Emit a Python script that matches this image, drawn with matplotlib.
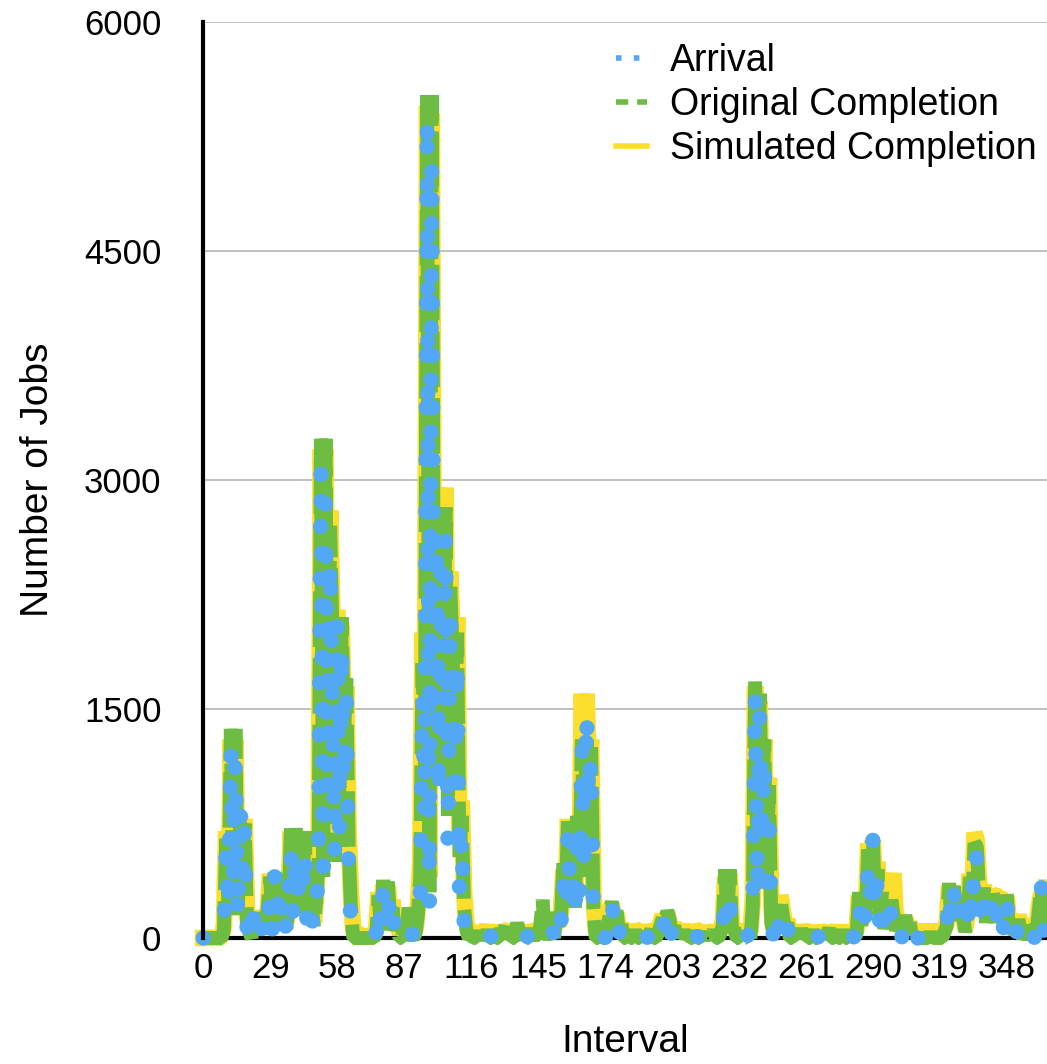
import numpy as np
import matplotlib
matplotlib.use("Agg")
import matplotlib.pyplot as plt
from matplotlib.lines import Line2D

plt.rcParams['font.family'] = ['Liberation Sans', 'DejaVu Sans']

# values per interval, 0..365
arrival = [
    0, 10, 0, 20, 5, 0, 15, 30, 10, 60,
    600, 150, 1260, 300, 1180, 100, 900, 400, 720, 60,
    150, 20, 160, 60, 110, 10, 140, 40, 90, 300,
    60, 410, 150, 380, 90, 200, 40, 250, 600, 130,
    520, 300, 560, 250, 600, 60, 220, 150, 40, 200,
    450, 3120, 300, 2850, 900, 2500, 1600, 520, 2100, 700,
    1950, 1000, 1550, 420, 110, 20, 0, 0, 0, 0,
    0, 0, 0, 0, 5, 40, 250, 30, 360, 120,
    340, 60, 180, 20, 70, 10, 0, 30, 10, 20,
    0, 40, 10, 130, 300, 1600, 800, 5400, 200, 5100,
    1500, 2700, 900, 2400, 1300, 2650, 600, 2150, 1700, 1000,
    1850, 300, 700, 100, 20, 30, 0, 10, 20, 0,
    15, 0, 10, 30, 0, 20, 5, 0, 10, 0,
    20, 0, 15, 10, 0, 30, 5, 0, 20, 10,
    0, 25, 10, 0, 30, 15, 0, 40, 10, 20,
    0, 60, 20, 150, 40, 100, 400, 150, 720, 200,
    650, 120, 780, 300, 1280, 400, 1500, 900, 1200, 150,
    40, 0, 20, 10, 0, 30, 120, 260, 60, 150,
    30, 80, 10, 0, 20, 10, 0, 30, 5, 0,
    20, 10, 0, 15, 30, 0, 10, 20, 50, 170,
    20, 160, 90, 10, 60, 20, 0, 10, 30, 0,
    20, 5, 0, 30, 10, 0, 20, 0, 15, 5,
    0, 30, 10, 0, 20, 50, 320, 120, 300, 20,
    40, 10, 0, 30, 10, 0, 20, 10, 150, 1620,
    300, 1450, 700, 1180, 200, 880, 60, 20, 190, 50,
    200, 120, 30, 60, 10, 0, 20, 0, 10, 30,
    0, 20, 10, 0, 30, 5, 0, 20, 10, 0,
    15, 30, 0, 10, 20, 0, 5, 30, 10, 0,
    20, 0, 10, 20, 250, 50, 210, 100, 520, 300,
    640, 150, 400, 80, 250, 30, 120, 60, 200, 100,
    30, 80, 20, 0, 100, 20, 60, 0, 10, 0,
    0, 5, 0, 10, 0, 20, 0, 5, 0, 10,
    0, 20, 50, 330, 80, 300, 150, 60, 200, 100,
    20, 90, 350, 100, 600, 520, 250, 120, 300, 80,
    200, 150, 250, 60, 200, 280, 100, 40, 270, 10,
    60, 0, 20, 100, 30, 0, 20, 0, 10, 60,
    0, 30, 150, 330, 20, 280,
]

original = [
    0, 0, 0, 0, 0, 0, 0, 0, 0, 50,
    650, 200, 1370, 300, 1370, 150, 760, 500, 750, 100,
    40, 0, 200, 30, 150, 0, 100, 50, 200, 400,
    100, 430, 200, 420, 100, 300, 60, 200, 720, 150,
    720, 400, 650, 300, 700, 100, 300, 200, 80, 250,
    500, 3270, 400, 3270, 1000, 2700, 2000, 500, 2100, 900,
    2100, 1300, 1700, 600, 200, 0, 0, 0, 0, 0,
    0, 0, 0, 0, 0, 30, 280, 50, 380, 150,
    370, 100, 200, 50, 100, 0, 0, 50, 0, 200,
    20, 0, 30, 150, 400, 1800, 1000, 5520, 300, 5520,
    1700, 2800, 1100, 2700, 1500, 2820, 800, 2300, 1900, 1200,
    2000, 500, 800, 200, 50, 0, 20, 0, 0, 40,
    0, 20, 0, 50, 0, 0, 30, 0, 0, 60,
    0, 90, 0, 40, 0, 0, 100, 20, 0, 50,
    0, 0, 60, 0, 20, 0, 80, 250, 0, 30,
    0, 100, 0, 170, 60, 150, 500, 200, 800, 300,
    700, 200, 800, 400, 1300, 500, 1300, 1000, 1250, 200,
    0, 0, 30, 0, 0, 50, 150, 240, 100, 180,
    50, 100, 0, 0, 40, 0, 0, 50, 0, 0,
    30, 0, 0, 20, 50, 0, 0, 30, 80, 130,
    40, 180, 120, 0, 80, 0, 0, 0, 50, 0,
    30, 0, 0, 40, 0, 0, 30, 0, 20, 0,
    0, 50, 0, 0, 30, 80, 450, 150, 450, 50,
    60, 0, 0, 50, 0, 0, 30, 0, 200, 1680,
    400, 1600, 800, 1300, 300, 1000, 100, 30, 220, 80,
    250, 150, 50, 100, 0, 0, 30, 0, 0, 60,
    0, 40, 0, 0, 50, 0, 0, 30, 0, 0,
    20, 60, 0, 0, 30, 0, 0, 50, 0, 0,
    40, 0, 0, 30, 300, 80, 250, 150, 580, 350,
    660, 200, 450, 120, 300, 60, 150, 100, 250, 150,
    50, 120, 40, 0, 150, 50, 100, 0, 0, 0,
    0, 0, 0, 0, 0, 30, 0, 0, 0, 0,
    0, 40, 80, 360, 100, 340, 200, 100, 250, 150,
    40, 120, 400, 150, 620, 600, 300, 150, 330, 100,
    250, 200, 300, 100, 250, 300, 150, 60, 290, 30,
    100, 0, 50, 120, 50, 0, 40, 0, 30, 100,
    0, 50, 200, 340, 40, 330,
]

simulated = [
    0, 0, 10, 0, 0, 20, 0, 0, 10, 80,
    700, 150, 1300, 350, 1300, 200, 800, 450, 780, 150,
    60, 20, 180, 50, 120, 30, 150, 80, 180, 420,
    80, 400, 250, 400, 150, 280, 100, 250, 700, 200,
    700, 350, 680, 350, 650, 150, 320, 250, 100, 300,
    550, 3200, 500, 3200, 1200, 2800, 2100, 550, 2150, 1000,
    2050, 1400, 1650, 700, 300, 50, 20, 30, 20, 10,
    20, 10, 30, 20, 10, 60, 300, 80, 350, 200,
    340, 150, 250, 80, 120, 40, 20, 30, 50, 100,
    40, 30, 60, 200, 500, 2000, 1200, 5450, 400, 5400,
    1800, 2950, 1300, 2900, 1600, 2950, 1000, 2400, 2000, 1400,
    2100, 700, 900, 300, 100, 50, 30, 40, 60, 30,
    50, 30, 40, 80, 20, 60, 40, 30, 50, 40,
    60, 30, 50, 70, 30, 40, 60, 50, 40, 70,
    30, 50, 40, 60, 50, 40, 60, 100, 40, 60,
    50, 80, 60, 120, 80, 180, 450, 250, 780, 350,
    720, 250, 780, 500, 1600, 600, 1600, 1100, 1300, 300,
    50, 40, 60, 30, 50, 80, 180, 220, 120, 160,
    60, 90, 40, 50, 60, 40, 30, 60, 50, 40,
    60, 30, 50, 40, 70, 50, 30, 60, 100, 150,
    60, 160, 100, 40, 90, 50, 30, 40, 70, 40,
    50, 40, 30, 60, 50, 40, 60, 30, 50, 40,
    30, 60, 40, 50, 60, 100, 400, 200, 420, 80,
    60, 40, 50, 60, 40, 30, 50, 40, 250, 1650,
    450, 1550, 850, 1300, 400, 1050, 200, 60, 250, 100,
    280, 180, 80, 120, 40, 30, 50, 40, 30, 70,
    40, 50, 40, 30, 60, 40, 30, 50, 40, 30,
    40, 60, 30, 40, 50, 30, 40, 60, 40, 30,
    50, 40, 30, 60, 280, 100, 280, 200, 620, 400,
    640, 250, 500, 150, 350, 100, 200, 150, 300, 425,
    100, 150, 80, 40, 130, 80, 100, 40, 50, 40,
    50, 40, 50, 40, 50, 40, 50, 40, 50, 40,
    40, 60, 100, 340, 120, 330, 220, 120, 230, 180,
    60, 150, 420, 200, 690, 640, 350, 200, 350, 150,
    270, 230, 320, 150, 280, 290, 180, 100, 270, 80,
    120, 40, 80, 150, 80, 40, 60, 40, 60, 120,
    40, 80, 220, 300, 80, 330,
]

x_ticks = [0, 29, 58, 87, 116, 145, 174, 203, 232, 261, 290, 319, 348]
y_ticks = [0, 1500, 3000, 4500, 6000]

blue = '#52A8F5'
green = '#6CBD42'
yellow = '#FCDF2C'

x = np.arange(len(arrival))

fig = plt.figure(figsize=(10.47, 10.64), dpi=100)
ax = fig.add_axes([0.194, 0.1184, 0.806, 0.8609])

ax.plot(x, simulated, color=yellow, lw=12, solid_joinstyle='bevel',
        zorder=2, clip_on=False)
ax.plot(x, original, color=green, lw=10, linestyle=(0, (4, 0.8)),
        dash_capstyle='butt', dash_joinstyle='bevel', zorder=3, clip_on=False)
ax.plot(x, arrival, color=blue, lw=11, linestyle=(0, (0.01, 3.4)),
        dash_capstyle='round', dash_joinstyle='round', zorder=4, clip_on=False)

ax.set_xlim(0, 365.4)
ax.set_ylim(0, 6000)
ax.set_xticks(x_ticks)
ax.set_yticks(y_ticks)
ax.tick_params(axis='both', length=0, labelsize=25)
ax.tick_params(axis='y', pad=30)
ax.tick_params(axis='x', pad=10)
ax.grid(axis='y', color='#BBBBBB', lw=1.3)
ax.set_axisbelow(True)

for s in ['top', 'right']:
    ax.spines[s].set_visible(False)
ax.spines['left'].set_linewidth(3)
ax.spines['bottom'].set_linewidth(3)
ax.spines['left'].set_zorder(5)

ax.set_xlabel('Interval', fontsize=28, labelpad=28)
ax.set_ylabel('Number of Jobs', fontsize=28, labelpad=20)

handles = [
    Line2D([], [], color=blue, lw=4, linestyle=(0, (1, 2.2))),
    Line2D([], [], color=green, lw=4, linestyle=(0, (2.2, 1.6))),
    Line2D([], [], color=yellow, lw=4),
]
ax.legend(handles, ['Arrival', 'Original Completion', 'Simulated Completion'],
          loc='upper right', bbox_to_anchor=(1.012, 1.0), frameon=False,
          fontsize=27, handlelength=0.85, handletextpad=0.6, labelspacing=0.22,
          borderaxespad=0.15)

plt.savefig('out.png', dpi=100)
